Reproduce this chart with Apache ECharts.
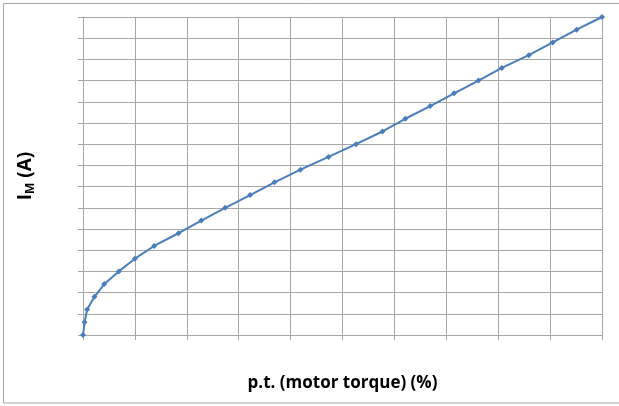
<!DOCTYPE html>
<html>
<head>
<meta charset="utf-8">
<script src="https://cdn.jsdelivr.net/npm/echarts@6/dist/echarts.min.js"></script>
<style>
  html, body { margin: 0; padding: 0; background: #fff; }
  #main { width: 619px; height: 406px; }
</style>
</head>
<body>
<div id="main"></div>
<script>
// Motor torque (%) on x, motor current on y (axis has no tick labels)
let torque = [0, 0.3, 0.8, 2.2, 4.1, 6.9, 10.0, 13.7, 18.4, 22.8, 27.4, 32.2, 36.9,
              41.9, 47.3, 52.6, 57.7, 62.1, 66.9, 71.5, 76.2, 80.7, 85.9, 90.5, 95.1, 100];
let current = [0, 0.6, 1.2, 1.8, 2.4, 3.0, 3.6, 4.2, 4.8, 5.4, 6.0, 6.6, 7.2,
               7.8, 8.4, 9.0, 9.6, 10.2, 10.8, 11.4, 12.0, 12.6, 13.2, 13.8, 14.4, 15.0];

let myChart = echarts.init(document.getElementById('main'));

let gridColor = '#a6a6a6';

let option = {
    animation: false,
    backgroundColor: '#fff',
    graphic: [
        {
            // outer chart frame
            type: 'rect',
            shape: { x: 3.5, y: 3.5, width: 700, height: 399.5 },
            style: { fill: 'none', stroke: '#a6a6a6', lineWidth: 1 },
            silent: true
        }
    ],
    grid: {
        left: 83,
        right: 17,
        top: 17,
        bottom: 71
    },
    xAxis: {
        type: 'value',
        min: 0,
        max: 100,
        interval: 10,
        name: 'p.t. (motor torque) (%)',
        nameLocation: 'middle',
        nameGap: 40,
        nameTextStyle: {
            fontFamily: 'Open Sans',
            fontWeight: 'bold',
            fontSize: 17,
            color: '#000'
        },
        axisLine: { show: true, lineStyle: { color: gridColor } },
        axisTick: { show: true, length: 5, lineStyle: { color: gridColor } },
        axisLabel: { show: false },
        splitLine: { show: true, lineStyle: { color: gridColor, width: 1 } }
    },
    yAxis: {
        type: 'value',
        min: 0,
        max: 15,
        interval: 1,
        name: 'I{sub|M} (A)',
        nameLocation: 'middle',
        nameGap: 46,
        nameRotate: 90,
        nameTextStyle: {
            fontFamily: 'Open Sans',
            fontWeight: 'bold',
            fontSize: 19,
            color: '#000',
            rich: {
                sub: {
                    fontFamily: 'Open Sans',
                    fontWeight: 'bold',
                    fontSize: 12,
                    color: '#000',
                    padding: [10, 0, 0, 0]
                }
            }
        },
        axisLine: { show: true, lineStyle: { color: gridColor } },
        axisTick: { show: true, length: 5, lineStyle: { color: gridColor } },
        axisLabel: { show: false },
        splitLine: { show: true, lineStyle: { color: gridColor, width: 1 } }
    },
    series: [
        {
            type: 'line',
            data: torque.map((t, i) => [t, current[i]]),
            color: '#4a7ebb',
            lineStyle: { width: 2, color: '#4a7ebb' },
            symbol: 'diamond',
            symbolSize: 6,
            itemStyle: { color: '#4a7ebb' }
        }
    ]
};

option && myChart.setOption(option);
</script>
</body>
</html>
